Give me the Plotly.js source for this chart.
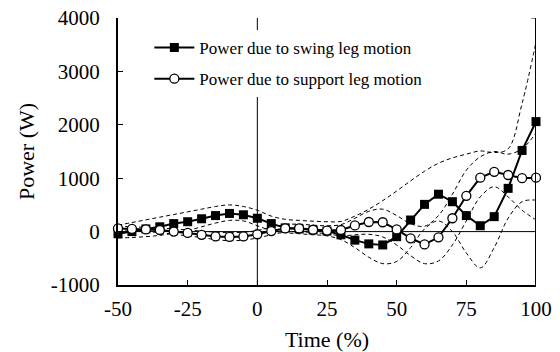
<!DOCTYPE html>
<html>
<head>
<meta charset="utf-8">
<script src="https://cdn.plot.ly/plotly-3.0.1.min.js"></script>
<style>
html,body{margin:0;padding:0;background:#fff;}
#chart{width:560px;height:352px;}
</style>
</head>
<body>
<div id="chart"></div>
<script>
// Time axis (% of cycle)
var time = [-50,-45,-40,-35,-30,-25,-20,-15,-10,-5,0,5,10,15,20,25,30,35,40,45,50,55,60,65,70,75,80,85,90,95,100];

// Mean power due to swing leg motion (W)
var swingMean = [-40,0,50,90,150,185,240,300,340,315,250,150,70,50,30,10,-60,-160,-230,-250,-95,217,510,700,560,300,110,280,810,1520,2060];
// Mean power due to support leg motion (W)
var supportMean = [60,50,40,30,0,-25,-60,-90,-100,-90,-50,10,60,60,35,20,30,115,180,175,40,-125,-240,-107,250,670,1010,1120,1060,1000,1010];

// Dashed bands (mean +/- SD)
var swingUpper = [120,170,220,270,320,370,420,470,500,470,400,290,230,210,195,185,190,290,420,580,760,950,1130,1280,1380,1450,1510,1480,1550,2400,3550];
var swingLower = [-120,-110,-95,-70,-30,20,90,160,210,200,110,20,-20,-40,-60,-80,-150,-300,-480,-600,-560,-300,50,200,0,-400,-680,-300,250,560,590];
var supportUpper = [100,90,80,70,50,30,10,-10,-20,-10,20,80,130,140,120,110,130,250,380,420,300,150,100,300,700,1150,1400,1500,1450,1550,1850];
var supportLower = [20,10,0,-20,-50,-80,-110,-150,-170,-160,-120,-60,-10,0,-20,-40,-80,-60,-50,-100,-250,-450,-600,-550,-250,200,650,840,650,400,220];

var xTicks = [-50,-25,0,25,50,75,100];
var yTicks = [-1000,0,1000,2000,3000,4000];

var FAM = 'Liberation Serif, Times New Roman, serif';

var dashStyle = {color:'#000', width:1, dash:'4px,3px', shape:'spline', smoothing:1};
function band(y){
  return {x:time, y:y, mode:'lines', line:dashStyle, showlegend:false, hoverinfo:'skip'};
}

var traces = [
  band(swingUpper), band(swingLower), band(supportUpper), band(supportLower),
  {x:time, y:swingMean, mode:'lines+markers', name:'Power due to swing leg motion',
   legendgroup:'a', line:{color:'#000', width:2}, cliponaxis:false,
   marker:{symbol:'square', size:9, color:'#000', line:{color:'#000', width:0}}},
  {x:time, y:supportMean, mode:'lines+markers', name:'Power due to support leg motion',
   legendgroup:'b', line:{color:'#000', width:2}, cliponaxis:false,
   marker:{symbol:'circle', size:9, color:'#fff', line:{color:'#000', width:1.3}}}
];

var layout = {
  width:560, height:352,
  margin:{l:118, r:24, t:18, b:67},
  paper_bgcolor:'#fff', plot_bgcolor:'#fff',
  font:{family:FAM, color:'#000'},
  showlegend:true,
  legend:{x:0.075, y:0.955, xanchor:'left', yanchor:'top', bgcolor:'#fff',
    font:{family:FAM, size:17, color:'#000'}, itemwidth:40, tracegroupgap:6},
  xaxis:{range:[-50,100], tickvals:xTicks, ticktext:xTicks.map(String),
    showgrid:false, zeroline:false, showline:true, linecolor:'#000', linewidth:2,
    ticks:'inside', ticklen:5, tickwidth:1, tickcolor:'#000',
    tickfont:{family:FAM, size:21, color:'#000'}, ticklabelstandoff:4,
    title:{text:'Time (%)', font:{family:FAM, size:22, color:'#000'}, standoff:12}},
  yaxis:{range:[-1000,4000], tickvals:yTicks, ticktext:yTicks.map(String),
    showgrid:false, zeroline:false, showline:true, linecolor:'#000', linewidth:2,
    ticks:'inside', ticklen:5, tickwidth:1, tickcolor:'#000',
    tickfont:{family:FAM, size:21, color:'#000'}, ticklabelstandoff:12,
    title:{text:'Power (W)', font:{family:FAM, size:22, color:'#000'}, standoff:10}},
  shapes:[
    {type:'line', xref:'x', yref:'y', x0:-50, x1:100, y0:0, y1:0, line:{color:'#000', width:1}, layer:'below'},
    {type:'line', xref:'x', yref:'y', x0:0, x1:0, y0:-1000, y1:4000, line:{color:'#000', width:1}, layer:'below'},
    {type:'line', xref:'x', yref:'y', x0:100, x1:100, y0:-1000, y1:4000, line:{color:'#000', width:2}},
    {type:'line', xref:'x', yref:'y', x0:98.3, x1:100, y0:4000, y1:4000, line:{color:'#000', width:1}}
  ]
};

Plotly.newPlot('chart', traces, layout, {displayModeBar:false, staticPlot:true});
</script>
</body>
</html>
